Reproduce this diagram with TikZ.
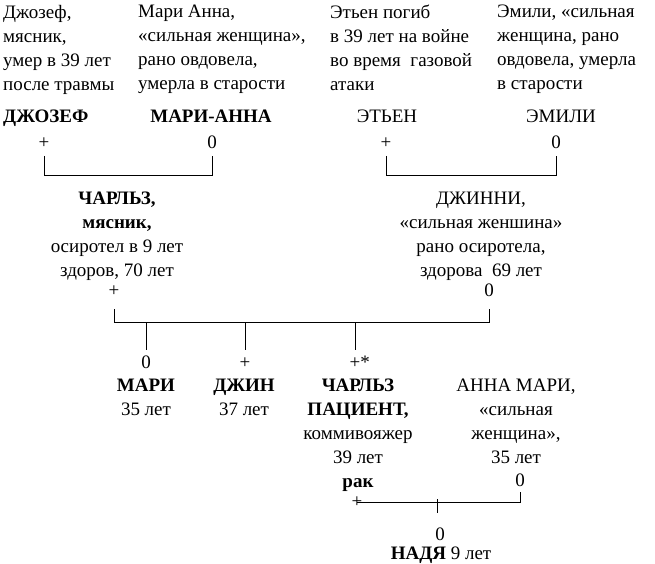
\documentclass[tikz,border=0pt]{standalone}
\usepackage{fontspec}
\setmainfont{Liberation Serif}
\begin{document}
\begin{tikzpicture}[x=1pt,y=-1pt,
  every node/.style={inner sep=0pt,font=\fontsize{19}{24}\selectfont},
  txt/.style={align=left,anchor=north west},
  blk/.style={align=center,anchor=north},
  nm/.style={anchor=base,font=\fontsize{19}{24}\selectfont\bfseries},
  nmr/.style={anchor=base},
  sym/.style={anchor=base},
  ln/.style={line width=1pt}]
\useasboundingbox (0,0) rectangle (655,564);
% top descriptions
\node[txt] (t1) at (3,5) {Джозеф,\\мясник,\\умер в 39 лет\\после травмы};
\node[txt] (t2) at (138,5) {Мари Анна,\\«сильная женщина»,\\рано овдовела,\\умерла в старости};
\node[txt] (t3) at (330,5) {Этьен погиб\\в 39 лет на войне\\во время\ \ газовой\\атаки};
\node[txt] (t4) at (497,5) {Эмили, «сильная\\женщина, рано\\овдовела, умерла\\в старости};
% grandparents
\node[nm,anchor=base west] (jos) at (3,123) {ДЖОЗЕФ};
\node[nm] (mar) at (211,123) {МАРИ-АННА};
\node[nmr] (eth) at (387,123) {ЭТЬЕН};
\node[nmr] (emi) at (561,123) {ЭМИЛИ};
\node[sym] (s1) at (44,149) {+};
\node[sym] (s2) at (212,149) {0};
\node[sym] (s3) at (386,149) {+};
\node[sym] (s4) at (556,149) {0};
\coordinate (k1) at (0,156);
\coordinate (bar1) at (0,175);
\draw[ln] (s1 |- k1) -- (s1 |- bar1) -- (s2 |- bar1) -- (s2 |- k1);
\draw[ln] (s3 |- k1) -- (s3 |- bar1) -- (s4 |- bar1) -- (s4 |- k1);
% parents
\node[blk] (cha) at (117,192) {\textbf{ЧАРЛЬЗ,}\\\textbf{мясник,}\\осиротел в 9 лет\\здоров, 70 лет};
\node[blk] (dzh) at (481,192) {ДЖИННИ,\\«сильная женшина»\\рано осиротела,\\здорова\ \ 69 лет};
\node[sym] (s5) at (114,296) {+};
\node[sym] (s6) at (489,296) {0};
\coordinate (k2) at (0,309);
\coordinate (bar2) at (0,322);
\coordinate (d2) at (0,350);
\draw[ln] (s5 |- k2) -- (s5 |- bar2) -- (s6 |- bar2) -- (s6 |- k2);
% children
\node[sym] (c1) at (146,368) {0};
\node[sym] (c2) at (245,368) {+};
\node[sym,anchor=base west] (c3) at (349.5,368) {+*};
\coordinate (c3d) at (355,0);
\draw[ln] (c1 |- bar2) -- (c1 |- d2);
\draw[ln] (c2 |- bar2) -- (c2 |- d2);
\draw[ln] (c3d |- bar2) -- (c3d |- d2);
\node[blk] (mari) at (146,379) {\textbf{МАРИ}\\35 лет};
\node[blk] (dzhin) at (244,379) {\textbf{ДЖИН}\\37 лет};
\node[blk] (pat) at (358,379) {\textbf{ЧАРЛЬЗ}\\\textbf{ПАЦИЕНТ,}\\коммивояжер\\39 лет\\\textbf{рак}};
\node[blk] (anna) at (516,379) {АННА МАРИ,\\«сильная\\женщина»,\\35 лет};
\node[sym] (a0) at (520,486) {0};
% grandchild
\node[sym] (pk) at (357,507.5) {+};
\coordinate (bar3) at (0,502);
\coordinate (k3) at (0,492);
\draw[ln] (pk.center |- bar3) -- (a0 |- bar3) -- (a0 |- k3);
\node[sym] (n0) at (440,540) {0};
\coordinate (nd) at (437,0);
\draw[ln] (nd |- 0,499) -- (nd |- 0,513);
\node[anchor=base] (nad) at (441,559) {\textbf{НАДЯ} 9 лет};
\end{tikzpicture}
\end{document}
